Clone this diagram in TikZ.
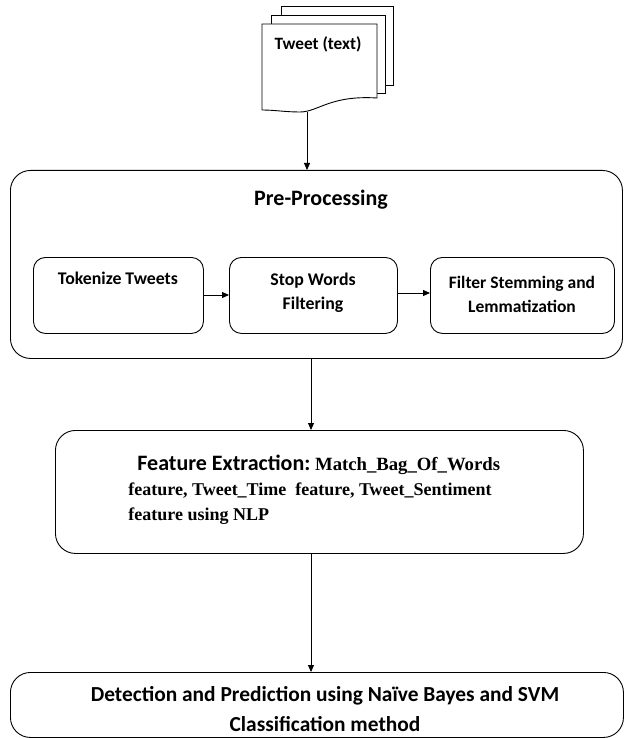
\documentclass[tikz,border=0pt]{standalone}
\usepackage{fontspec}
\setmainfont{Carlito}
\newfontfamily\tms{Liberation Serif}
\usetikzlibrary{arrows.meta}
\begin{document}
\begin{tikzpicture}[x=1pt,y=-1pt,
  line width=0.9pt,
  bigbox/.style={draw, rounded corners=20pt, anchor=north west, inner sep=0pt},
  smallbox/.style={draw, rounded corners=12pt, anchor=north west, inner sep=0pt},
  txt/.style={font=\bfseries, inner sep=0pt, align=center},
  arr/.style={-{Triangle[length=7pt,width=6pt]}},
  sheet/.style={draw, fill=white, line join=miter}]
\useasboundingbox (0,0) rectangle (624,738);
% document stack
\draw[sheet] (281,20) -- (281,6) -- (393,6) -- (393,85) -- (385,85);
\draw[sheet] (271,24) -- (271,15) -- (385,15) -- (385,93) -- (377,93);
\draw[sheet] (262,24) -- (377,24) -- (377,98) .. controls (330,95) and (318,112) .. (300,112) .. controls (285,112) and (275,110) .. (262,110) -- cycle;
\node[txt, font=\bfseries\fontsize{17.3}{20}\selectfont] (tweet) at (318,44) {Tweet (text)};
\coordinate (docb) at (307,112);
% pre-processing
\node[bigbox, minimum width=612, minimum height=188] (pre) at (10,170) {};
\node[txt, font=\bfseries\fontsize{22}{26}\selectfont] (pret) at (321,200) {Pre-Processing};
\node[smallbox, minimum width=170, minimum height=76] (tok) at (33,257) {};
\node[smallbox, minimum width=168, minimum height=76] (stop) at (229,257) {};
\node[smallbox, minimum width=184, minimum height=76] (filt) at (430,257) {};
\node[txt, font=\bfseries\fontsize{17.8}{24}\selectfont] (tokt) at (118,278) {Tokenize Tweets};
\node[txt, font=\bfseries\fontsize{17.8}{24}\selectfont] (stopt) at (313,293) {Stop Words\\Filtering};
\node[txt, font=\bfseries\fontsize{17.5}{24}\selectfont] (filtt) at (522,294) {Filter Stemming and\\Lemmatization};
\draw[arr] (tok.east |- 0,295) -- (stop.west |- 0,295);
\draw[arr] (stop.east |- 0,293) -- (filt.west |- 0,293);
\draw[arr] (docb) -- (pre.north -| docb);
% feature extraction
\node[bigbox, minimum width=528, minimum height=123] (feat) at (55,430) {};
\node[inner sep=0pt, anchor=north west, align=left, font=\bfseries\fontsize{18}{25}\selectfont] (featt) at (128,455)
  {\hspace*{9pt}{\fontsize{22}{25}\selectfont Feature Extraction:}{\tms\fontsize{18.7}{25}\selectfont\ Match\_Bag\_Of\_Words}\\
   {\tms feature, Tweet\_Time\ \ feature, Tweet\_Sentiment}\\
   {\tms feature using NLP}};
\coordinate (a2) at (311,358);
\draw[arr] (a2) -- (feat.north -| a2);
% detection
\node[bigbox, minimum width=613, minimum height=65] (det) at (10,672) {};
\node[txt, font=\bfseries\fontsize{21.4}{30}\selectfont] (dett) at (325,709) {Detection and Prediction using Naïve Bayes and SVM\\Classification method};
\draw[arr] (feat.south -| a2) -- (det.north -| a2);
\end{tikzpicture}
\end{document}
